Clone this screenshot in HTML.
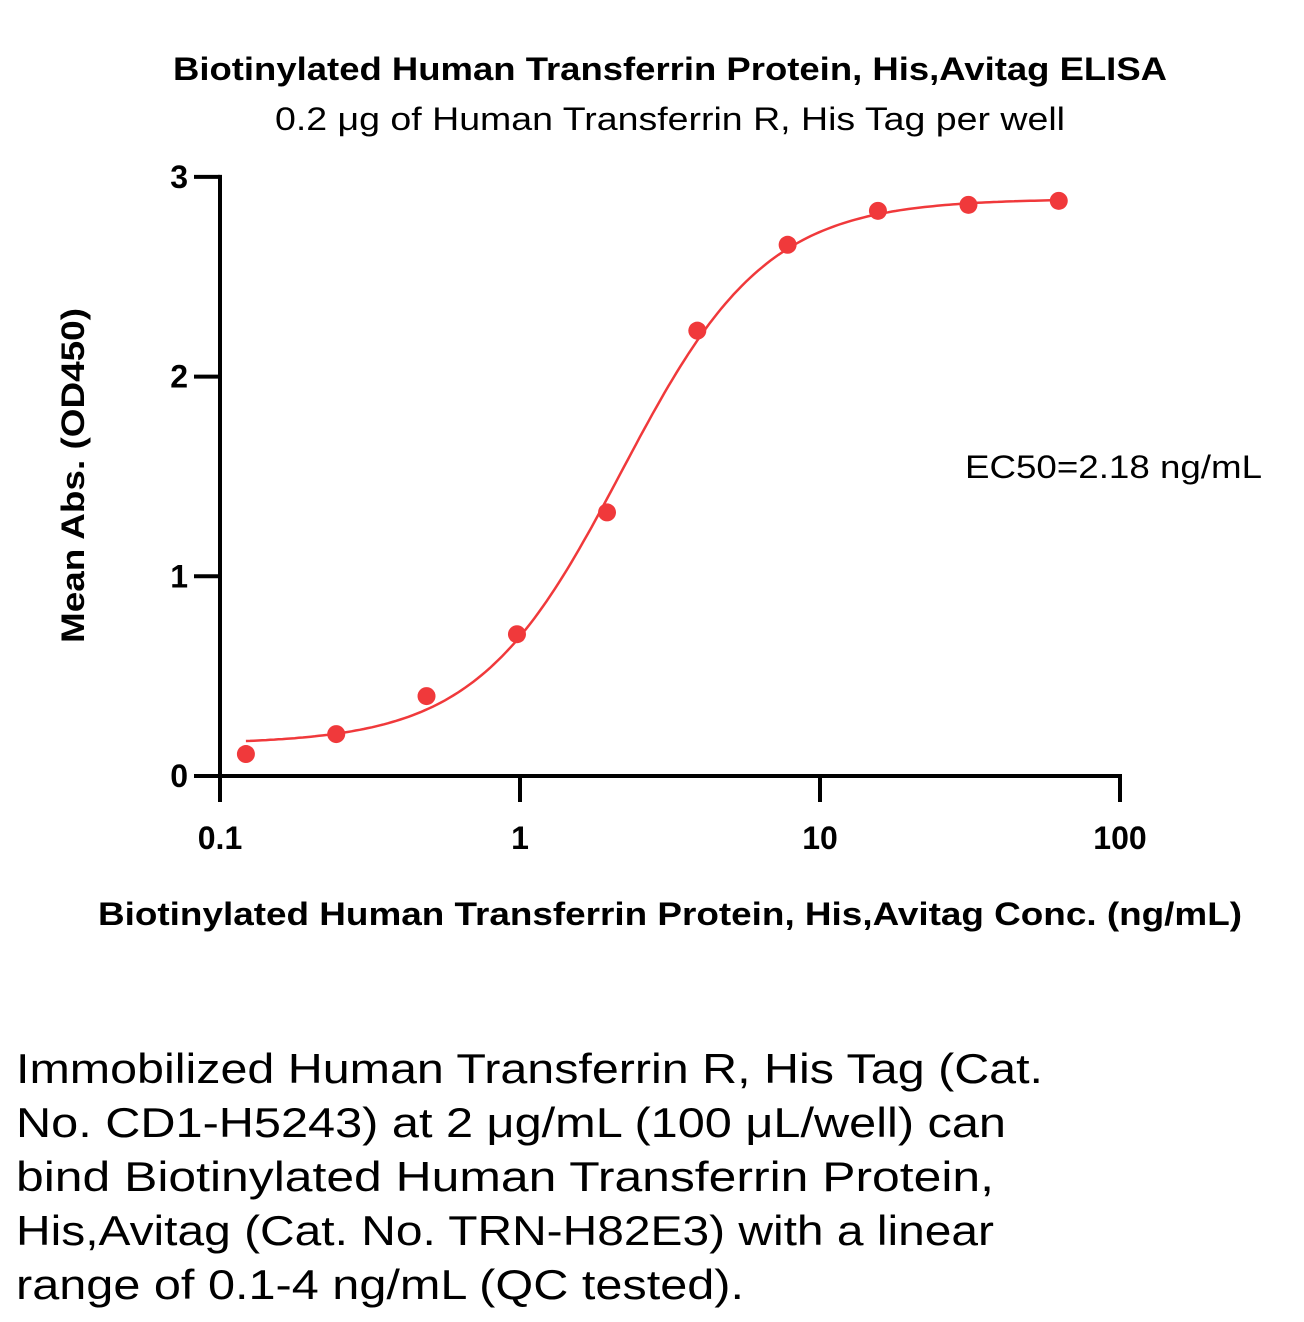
<!DOCTYPE html>
<html><head><meta charset="utf-8"><style>
body{margin:0;background:#fff;width:1304px;height:1322px;overflow:hidden;font-family:"Liberation Sans",sans-serif}
svg{position:absolute;left:0;top:0}
</style></head><body>
<svg width="1304" height="1322">
<text x="173" y="80" textLength="994" lengthAdjust="spacingAndGlyphs" font-size="32" font-weight="bold">Biotinylated Human Transferrin Protein, His,Avitag ELISA</text>
<text x="275" y="130" textLength="790" lengthAdjust="spacingAndGlyphs" font-size="32">0.2 μg of Human Transferrin R, His Tag per well</text>
<g id="axes" stroke="#000" stroke-width="4" fill="none"></g>
<g id="labels" font-size="32" font-weight="bold"></g>
<text transform="translate(84,643) rotate(-90)" textLength="335" lengthAdjust="spacingAndGlyphs" font-size="32" font-weight="bold">Mean Abs. (OD450)</text>
<text x="98" y="925" textLength="1144" lengthAdjust="spacingAndGlyphs" font-size="32" font-weight="bold">Biotinylated Human Transferrin Protein, His,Avitag Conc. (ng/mL)</text>
<text x="965" y="478" textLength="297" lengthAdjust="spacingAndGlyphs" font-size="32">EC50=2.18 ng/mL</text>
<g id="plot"></g>
<g font-size="42">
<text x="16" y="1083" textLength="1027" lengthAdjust="spacingAndGlyphs">Immobilized Human Transferrin R, His Tag (Cat.</text>
<text x="16" y="1137" textLength="990" lengthAdjust="spacingAndGlyphs">No. CD1-H5243) at 2 μg/mL (100 μL/well) can</text>
<text x="16" y="1191" textLength="978" lengthAdjust="spacingAndGlyphs">bind Biotinylated Human Transferrin Protein,</text>
<text x="16" y="1245" textLength="978" lengthAdjust="spacingAndGlyphs">His,Avitag (Cat. No. TRN-H82E3) with a linear</text>
<text x="16" y="1299" textLength="728" lengthAdjust="spacingAndGlyphs">range of 0.1-4 ng/mL (QC tested).</text>
</g>
</svg>
<script>
const concs=[0.122,0.244,0.488,0.977,1.95,3.9,7.8,15.6,31.25,62.5];
const absVals=[0.11,0.21,0.40,0.71,1.32,2.23,2.66,2.83,2.86,2.88];
const xTicks=[0.1,1,10,100];
const xTickLabels=["0.1","1","10","100"];
const yTicks=[0,1,2,3];
const fitBottom=0.16, fitTop=2.89, fitEC50=2.18, fitHill=1.8;
const NS="http://www.w3.org/2000/svg";
const X=v=>220+300*(Math.log10(v)+1);
const Y=v=>776-199.7*v;
function mk(tag,attrs,parent){const e=document.createElementNS(NS,tag);for(const k in attrs)e.setAttribute(k,attrs[k]);parent.appendChild(e);return e;}
const ax=document.getElementById('axes'),lb=document.getElementById('labels'),pl=document.getElementById('plot');
let e=mk('line',{x1:220,y1:Y(3)-2,x2:220,y2:778},ax);

e=mk('line',{x1:218,y1:776,x2:1122,y2:776},ax);

yTicks.forEach(t=>{
 let l=mk('line',{x1:194,y1:Y(t),x2:220,y2:Y(t)},ax);
 
 let tx=mk('text',{x:188,y:Y(t)+11,'text-anchor':'end'},lb);tx.textContent=t;
 
});
xTicks.forEach((t,i)=>{
 let l=mk('line',{x1:X(t),y1:776,x2:X(t),y2:802},ax);
 
 let tx=mk('text',{x:X(t),y:849,'text-anchor':'middle'},lb);tx.textContent=xTickLabels[i];
 
});
let d='';
const lo=Math.log10(concs[0]),hi=Math.log10(concs[concs.length-1]);
for(let i=0;i<=200;i++){const c=Math.pow(10,lo+(hi-lo)*i/200);const v=fitBottom+(fitTop-fitBottom)/(1+Math.pow(fitEC50/c,fitHill));d+=(i?'L':'M')+X(c).toFixed(1)+' '+Y(v).toFixed(1);}
let p=mk('path',{d:d,stroke:'#f0393b','stroke-width':2.5,fill:'none'},pl);

concs.forEach((c,i)=>{
 let ci=mk('circle',{cx:X(c),cy:Y(absVals[i]),r:9,fill:'#f0393b'},pl);
 
});
</script>
</body></html>
